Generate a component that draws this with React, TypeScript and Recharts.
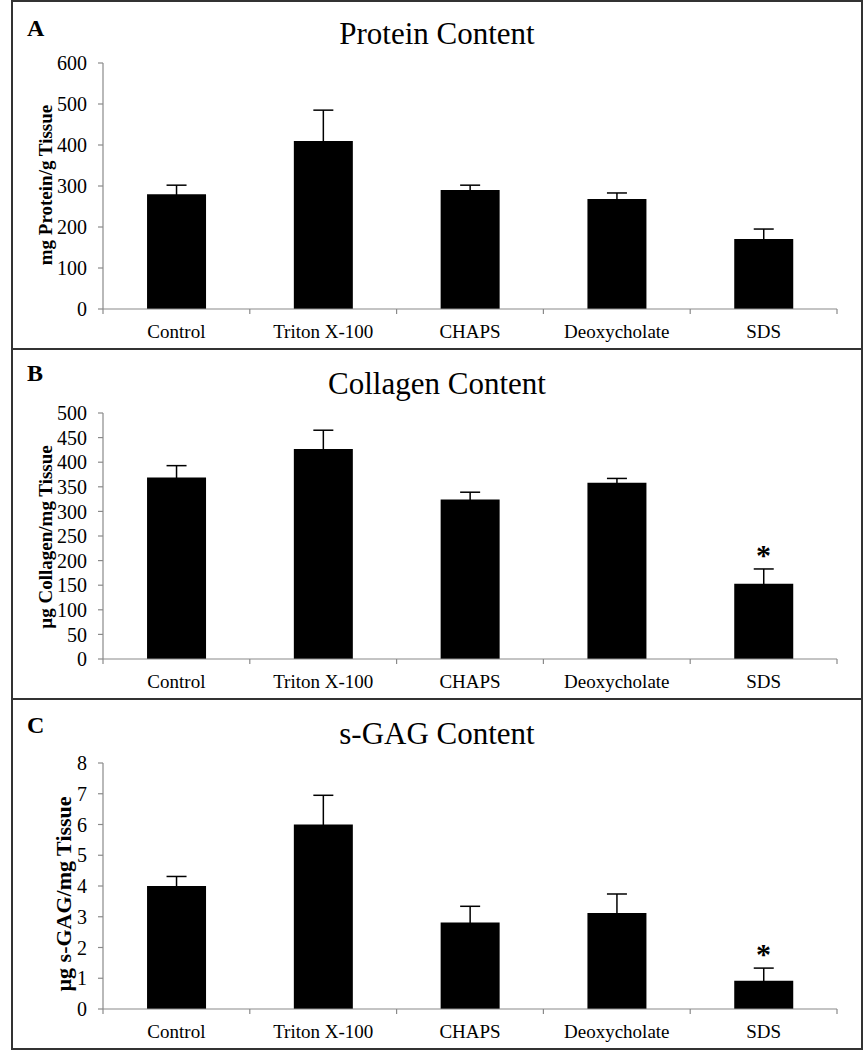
import React from 'react';
import { ComposedChart, Bar, ErrorBar, Scatter, XAxis, YAxis } from 'recharts';

const categories = ['Control', 'Triton X-100', 'CHAPS', 'Deoxycholate', 'SDS'];

const proteinMean = [280, 410, 290, 268, 171];
const proteinErr = [22, 75, 12, 15, 24];
const proteinTicks = [0, 100, 200, 300, 400, 500, 600];

const collagenMean = [369, 427, 324, 358, 153];
const collagenErr = [24, 38, 15, 9, 30];
const collagenSig = [false, false, false, false, true];
const collagenTicks = [0, 50, 100, 150, 200, 250, 300, 350, 400, 450, 500];

const gagMean = [4.0, 6.0, 2.81, 3.12, 0.92];
const gagErr = [0.31, 0.95, 0.53, 0.62, 0.41];
const gagSig = [false, false, false, false, true];
const gagTicks = [0, 1, 2, 3, 4, 5, 6, 7, 8];

const SERIF = '"Liberation Serif", "Times New Roman", serif';
const AXIS = '#8a8a8a';
const PANEL_W = 852;
const CHART_W = PANEL_W - 4;
const TICK_SIZE = 6;
const TICK_MARGIN = 10;

function rows(means: number[], errs: number[], sig?: boolean[]) {
  return categories.map((name, i) => ({
    name,
    mean: means[i],
    err: errs[i],
    star: sig && sig[i] ? means[i] + errs[i] : null,
  }));
}

const Star = (props: any) => {
  const { cx, cy, payload } = props;
  if (!payload || payload.star == null) return <g />;
  return (
    <text x={cx} y={cy - 4} textAnchor="middle" fontSize={30} fontWeight="bold" fontFamily={SERIF} fill="#000">
      *
    </text>
  );
};

// category label plus tick marks at the band edges (Excel style)
const CatTick = (props: any) => {
  const { x, y, payload, index, visibleTicksCount } = props;
  const half = payload && payload.offset ? payload.offset : 0;
  const axisY = y - TICK_SIZE - TICK_MARGIN;
  const last = index === (visibleTicksCount ?? categories.length) - 1;
  return (
    <g>
      <line x1={x - half} x2={x - half} y1={axisY} y2={axisY + 5} stroke={AXIS} strokeWidth={1.2} />
      {last && <line x1={x + half} x2={x + half} y1={axisY} y2={axisY + 5} stroke={AXIS} strokeWidth={1.2} />}
      <text x={x} y={y} dy="0.71em" textAnchor="middle" fontSize={19} fontFamily={SERIF} fill="#000">
        {payload.value}
      </text>
    </g>
  );
};

type PanelProps = {
  letter: string;
  title: string;
  yLabel: string;
  top: number;
  height: number;
  plotTop: number;
  letterY: number;
  titleY: number;
  labelX: number;
  labelY: number;
  labelSize: number;
  data: any[];
  ticks: number[];
};

function Panel(p: PanelProps) {
  const inner = p.height - 4;
  return (
    <div
      style={{
        position: 'absolute',
        left: 11,
        top: p.top,
        width: PANEL_W,
        height: p.height,
        border: '2px solid #333',
        boxSizing: 'border-box',
        background: '#fff',
      }}
    >
      <ComposedChart
        width={CHART_W}
        height={inner}
        data={p.data}
        margin={{ top: p.plotTop, right: 24, bottom: 0, left: 0 }}
        barCategoryGap="30%"
        style={{ position: 'absolute', left: 0, top: 0 }}
      >
        <XAxis
          dataKey="name"
          interval={0}
          tickLine={false}
          tickSize={TICK_SIZE}
          tickMargin={TICK_MARGIN}
          axisLine={{ stroke: AXIS, strokeWidth: 1.2 }}
          tick={<CatTick />}
          height={39}
        />
        <YAxis
          domain={[0, p.ticks[p.ticks.length - 1]]}
          ticks={p.ticks}
          interval={0}
          width={90}
          tickSize={5}
          tickMargin={11}
          axisLine={{ stroke: AXIS, strokeWidth: 1.2 }}
          tickLine={{ stroke: AXIS, strokeWidth: 1.2 }}
          tick={{ fontSize: 20, fill: '#000', fontFamily: SERIF }}
        />
        <Bar dataKey="mean" fill="#000" isAnimationActive={false}>
          <ErrorBar dataKey="err" direction="y" width={10} stroke="#000" strokeWidth={1.5} isAnimationActive={false} />
        </Bar>
        <Scatter dataKey="star" shape={<Star />} isAnimationActive={false} />
      </ComposedChart>
      <svg
        width={CHART_W}
        height={inner}
        style={{ position: 'absolute', left: 0, top: 0, pointerEvents: 'none' }}
      >
        <text x={14} y={p.letterY} fontSize={24} fontWeight="bold" fontFamily={SERIF} fill="#000">
          {p.letter}
        </text>
        <text x={CHART_W / 2} y={p.titleY} textAnchor="middle" fontSize={31} fontFamily={SERIF} fill="#000">
          {p.title}
        </text>
        <text
          x={p.labelX}
          y={p.labelY}
          dy="0.35em"
          textAnchor="middle"
          fontSize={p.labelSize}
          fontWeight="bold"
          fontFamily={SERIF}
          fill="#000"
          transform={`rotate(-90, ${p.labelX}, ${p.labelY})`}
        >
          {p.yLabel}
        </text>
      </svg>
    </div>
  );
}

export default function App() {
  return (
    <div style={{ position: 'absolute', left: 0, top: 0, width: 863, height: 1050, background: '#fff' }}>
      <Panel
        letter="A"
        title="Protein Content"
        yLabel="mg Protein/g Tissue"
        top={0}
        height={350}
        plotTop={61}
        letterY={34}
        titleY={42}
        labelX={32}
        labelY={183}
        labelSize={19}
        data={rows(proteinMean, proteinErr)}
        ticks={proteinTicks}
      />
      <Panel
        letter="B"
        title="Collagen Content"
        yLabel="µg Collagen/mg Tissue"
        top={348}
        height={352}
        plotTop={63}
        letterY={31}
        titleY={44}
        labelX={32}
        labelY={187}
        labelSize={19}
        data={rows(collagenMean, collagenErr, collagenSig)}
        ticks={collagenTicks}
      />
      <Panel
        letter="C"
        title="s-GAG Content"
        yLabel="µg s-GAG/mg Tissue"
        top={698}
        height={352}
        plotTop={63}
        letterY={33}
        titleY={44}
        labelX={50}
        labelY={194}
        labelSize={22}
        data={rows(gagMean, gagErr, gagSig)}
        ticks={gagTicks}
      />
    </div>
  );
}
